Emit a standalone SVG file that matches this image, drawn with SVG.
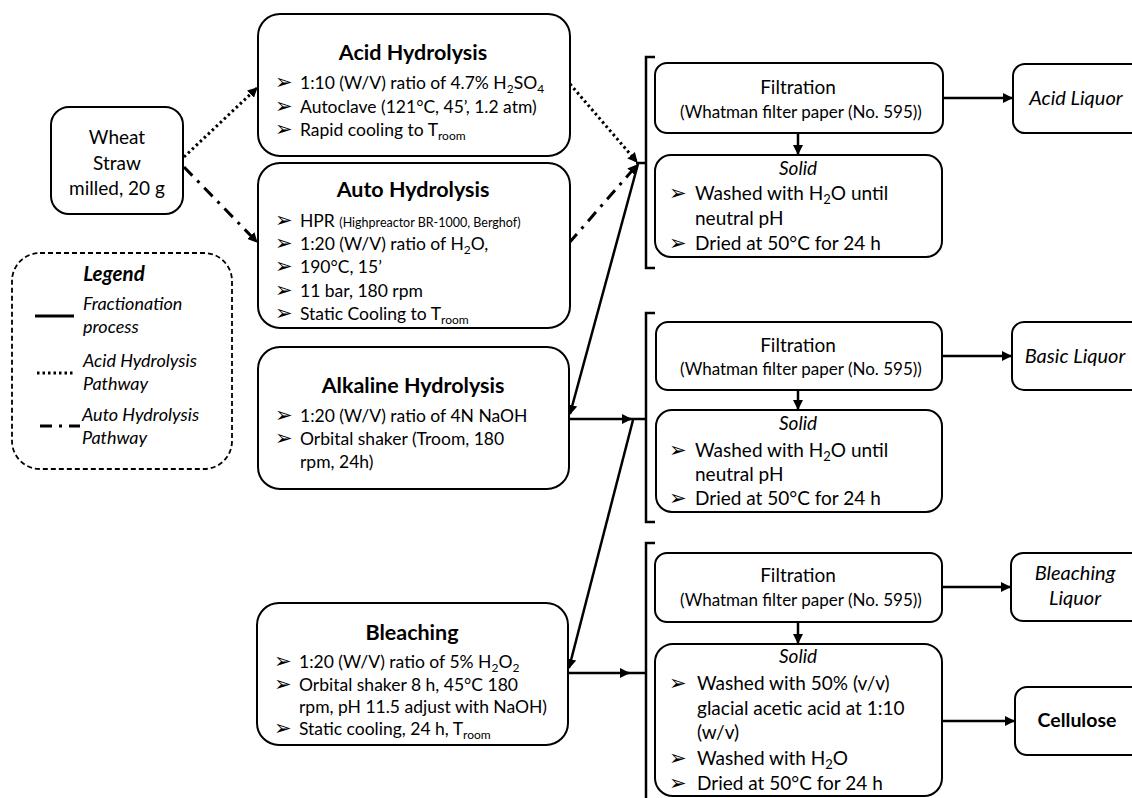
<svg xmlns="http://www.w3.org/2000/svg" width="1132" height="798" viewBox="0 0 1132 798">
<style>
text{font-family:Lato,"Open Sans","Liberation Sans",sans-serif;fill:#000}
.box{fill:#fff;stroke:#000;stroke-width:2}
.t{font-size:19px}
.b{font-size:17.5px}
.r{font-size:19px}
.h{font-size:21.5px;font-weight:bold;text-anchor:middle}
.c{text-anchor:middle}
.i{font-style:italic}
.w{font-size:17px;text-anchor:middle}
.bul{font-family:"DejaVu Sans",sans-serif;font-size:21px}
.sm{font-size:12.5px}
.lg{font-size:18px;font-style:italic}
.ln{fill:none;stroke:#000;stroke-width:2.5}
.dot{fill:none;stroke:#000;stroke-width:3;stroke-dasharray:2.5 3}
.dd{fill:none;stroke:#000;stroke-width:3;stroke-dasharray:12 7 3 7}
</style>
<defs>
<marker id="ah" viewBox="0 0 10 10" refX="9" refY="5" markerWidth="10" markerHeight="10" markerUnits="userSpaceOnUse" orient="auto">
<path d="M0,0 L10,5 L0,10 z" fill="#000"/>
</marker>
</defs>

<g id="connectors">
<line class="dot" x1="184" y1="157" x2="257" y2="88" marker-end="url(#ah)"/>
<line class="dd" x1="184" y1="167" x2="257" y2="242" marker-end="url(#ah)"/>
<line class="dot" x1="570" y1="84" x2="637" y2="162" marker-end="url(#ah)"/>
<line class="dd" x1="569" y1="243" x2="637" y2="165" marker-end="url(#ah)"/>
<line class="ln" x1="638" y1="164" x2="570" y2="414" marker-end="url(#ah)"/>
<line class="ln" x1="569" y1="419" x2="631" y2="419" marker-end="url(#ah)"/>
<line class="ln" x1="633" y1="420" x2="569" y2="668" marker-end="url(#ah)"/>
<line class="ln" x1="568" y1="673" x2="629" y2="673" marker-end="url(#ah)"/>
<line class="ln" x1="636" y1="163" x2="646" y2="163"/>
<line class="ln" x1="626" y1="419" x2="646" y2="419"/>
<line class="ln" x1="624" y1="673" x2="646" y2="673"/>
<path class="ln" d="M655,57 H646 V268 H655"/>
<path class="ln" d="M655,313 H646 V522 H655"/>
<path class="ln" d="M655,543 H646 V800"/>
<line class="ln" x1="798" y1="133" x2="798" y2="154" marker-end="url(#ah)"/>
<line class="ln" x1="798" y1="390" x2="798" y2="409" marker-end="url(#ah)"/>
<line class="ln" x1="798" y1="622" x2="798" y2="643" marker-end="url(#ah)"/>
<line class="ln" x1="943" y1="98" x2="1012" y2="98" marker-end="url(#ah)"/>
<line class="ln" x1="942" y1="356" x2="1011" y2="356" marker-end="url(#ah)"/>
<line class="ln" x1="942" y1="587" x2="1010" y2="587" marker-end="url(#ah)"/>
<line class="ln" x1="942" y1="721" x2="1014" y2="721" marker-end="url(#ah)"/>
</g>

<g id="wheat">
<rect class="box" x="51" y="107" width="132" height="107" rx="18"/>
<text class="t c" x="117" y="144">Wheat</text>
<text class="t c" x="117" y="170">Straw</text>
<text class="t c" x="117" y="195">milled, 20 g</text>
</g>

<g id="legend">
<rect x="12" y="253" width="220" height="216" rx="28" fill="#fff" stroke="#000" stroke-width="1.8" stroke-dasharray="5 3"/>
<text class="i" x="114" y="281" font-size="20.5" font-weight="bold" text-anchor="middle">Legend</text>
<line x1="35" y1="316" x2="74" y2="316" stroke="#000" stroke-width="3"/>
<text class="lg" x="83" y="310">Fractionation</text>
<text class="lg" x="83" y="333">process</text>
<line class="dot" x1="37" y1="373" x2="75" y2="373"/>
<text class="lg" x="83" y="367">Acid Hydrolysis</text>
<text class="lg" x="83" y="390">Pathway</text>
<line class="dd" x1="40" y1="426" x2="80" y2="426"/>
<text class="lg" x="82" y="421">Auto Hydrolysis</text>
<text class="lg" x="82" y="444">Pathway</text>
</g>

<g id="acid">
<rect class="box" x="258" y="14" width="312" height="142" rx="22"/>
<text class="h" x="413" y="60">Acid Hydrolysis</text>
<text class="bul" x="275" y="89">➢</text>
<text class="b" x="300" y="89">1:10 (W/V) ratio of 4.7% H<tspan font-size="12" dy="4">2</tspan><tspan dy="-4">SO</tspan><tspan font-size="12" dy="4">4</tspan></text>
<text class="bul" x="275" y="113">➢</text>
<text class="b" x="300" y="113">Autoclave (121°C, 45’, 1.2 atm)</text>
<text class="bul" x="275" y="136">➢</text>
<text class="b" x="300" y="136">Rapid cooling to T<tspan font-size="12" dy="4">room</tspan></text>
</g>

<g id="auto">
<rect class="box" x="258" y="163" width="312" height="165" rx="22"/>
<text class="h" x="413" y="197">Auto Hydrolysis</text>
<text class="bul" x="275" y="227">➢</text>
<text class="b" x="300" y="227">HPR <tspan class="sm">(Highpreactor BR-1000, Berghof)</tspan></text>
<text class="bul" x="275" y="250">➢</text>
<text class="b" x="300" y="250">1:20 (W/V) ratio of H<tspan font-size="12" dy="4">2</tspan><tspan dy="-4">O,</tspan></text>
<text class="bul" x="275" y="273">➢</text>
<text class="b" x="300" y="273">190°C, 15’</text>
<text class="bul" x="275" y="297">➢</text>
<text class="b" x="300" y="297">11 bar, 180 rpm</text>
<text class="bul" x="275" y="320">➢</text>
<text class="b" x="300" y="320">Static Cooling to T<tspan font-size="12" dy="4">room</tspan></text>
</g>

<g id="alkaline">
<rect class="box" x="258" y="347" width="311" height="142" rx="22"/>
<text class="h" x="413" y="393">Alkaline Hydrolysis</text>
<text class="bul" x="275" y="422">➢</text>
<text class="b" x="300" y="422">1:20 (W/V) ratio of 4N NaOH</text>
<text class="bul" x="275" y="445">➢</text>
<text class="b" x="300" y="445">Orbital shaker (Troom, 180</text>
<text class="b" x="300" y="468">rpm, 24h)</text>
</g>

<g id="bleaching">
<rect class="box" x="257" y="603" width="311" height="142" rx="22"/>
<text class="h" x="412" y="640">Bleaching</text>
<text class="bul" x="274" y="668">➢</text>
<text class="b" x="299" y="668">1:20 (W/V) ratio of 5% H<tspan font-size="12" dy="4">2</tspan><tspan dy="-4">O</tspan><tspan font-size="12" dy="4">2</tspan></text>
<text class="bul" x="274" y="691">➢</text>
<text class="b" x="299" y="691">Orbital shaker 8 h, 45°C  180</text>
<text class="b" x="299" y="713">rpm, pH 11.5 adjust with NaOH)</text>
<text class="bul" x="274" y="735">➢</text>
<text class="b" x="299" y="735">Static cooling, 24 h, T<tspan font-size="12" dy="4">room</tspan></text>
</g>

<g id="filtration1">
<rect class="box" x="655" y="63" width="288" height="70" rx="12"/>
<text class="t c" x="798" y="94">Filtration</text>
<text class="w" x="801" y="118">(Whatman filter paper (No. 595))</text>
</g>
<g id="solid1">
<rect class="box" x="655" y="155" width="287" height="102" rx="16"/>
<text class="r c i" x="798" y="175">Solid</text>
<text class="bul" x="669" y="200">➢</text>
<text class="r" x="695" y="200">Washed with H<tspan font-size="13" dy="4">2</tspan><tspan dy="-4">O until</tspan></text>
<text class="r" x="695" y="225">neutral pH</text>
<text class="bul" x="669" y="250">➢</text>
<text class="r" x="695" y="250">Dried at 50°C for 24 h</text>
</g>
<g id="acidliquor">
<rect class="box" x="1013" y="64" width="130" height="69" rx="12"/>
<text class="c i" x="1076" y="105" font-size="20">Acid Liquor</text>
</g>

<g id="filtration2">
<rect class="box" x="656" y="322" width="286" height="68" rx="12"/>
<text class="t c" x="798" y="352">Filtration</text>
<text class="w" x="801" y="375">(Whatman filter paper (No. 595))</text>
</g>
<g id="solid2">
<rect class="box" x="656" y="410" width="286" height="102" rx="16"/>
<text class="r c i" x="798" y="430">Solid</text>
<text class="bul" x="669" y="457">➢</text>
<text class="r" x="695" y="457">Washed with H<tspan font-size="13" dy="4">2</tspan><tspan dy="-4">O until</tspan></text>
<text class="r" x="695" y="481">neutral pH</text>
<text class="bul" x="669" y="505">➢</text>
<text class="r" x="695" y="505">Dried at 50°C for 24 h</text>
</g>
<g id="basicliquor">
<rect class="box" x="1012" y="322" width="131" height="68" rx="12"/>
<text class="c i" x="1075" y="363" font-size="20">Basic Liquor</text>
</g>

<g id="filtration3">
<rect class="box" x="655" y="553" width="287" height="69" rx="12"/>
<text class="t c" x="798" y="582">Filtration</text>
<text class="w" x="801" y="606">(Whatman filter paper (No. 595))</text>
</g>
<g id="solid3">
<rect class="box" x="655" y="644" width="287" height="152" rx="18"/>
<text class="r c i" x="798" y="663">Solid</text>
<text class="bul" x="669" y="690">➢</text>
<text class="r" x="697" y="690">Washed with 50% (v/v)</text>
<text class="r" x="697" y="715">glacial acetic acid at 1:10</text>
<text class="r" x="697" y="739">(w/v)</text>
<text class="bul" x="669" y="765">➢</text>
<text class="r" x="697" y="765">Washed with H<tspan font-size="13" dy="4">2</tspan><tspan dy="-4">O</tspan></text>
<text class="bul" x="669" y="790">➢</text>
<text class="r" x="697" y="790">Dried at 50°C for 24 h</text>
</g>
<g id="bleachingliquor">
<rect class="box" x="1011" y="553" width="132" height="68" rx="12"/>
<text class="c i" x="1075" y="580" font-size="20">Bleaching</text>
<text class="c i" x="1075" y="605" font-size="20">Liquor</text>
</g>
<g id="cellulose">
<rect class="box" x="1015" y="687" width="128" height="68" rx="12"/>
<text class="c" x="1077" y="727" font-size="19.5" font-weight="bold">Cellulose</text>
</g>
</svg>
